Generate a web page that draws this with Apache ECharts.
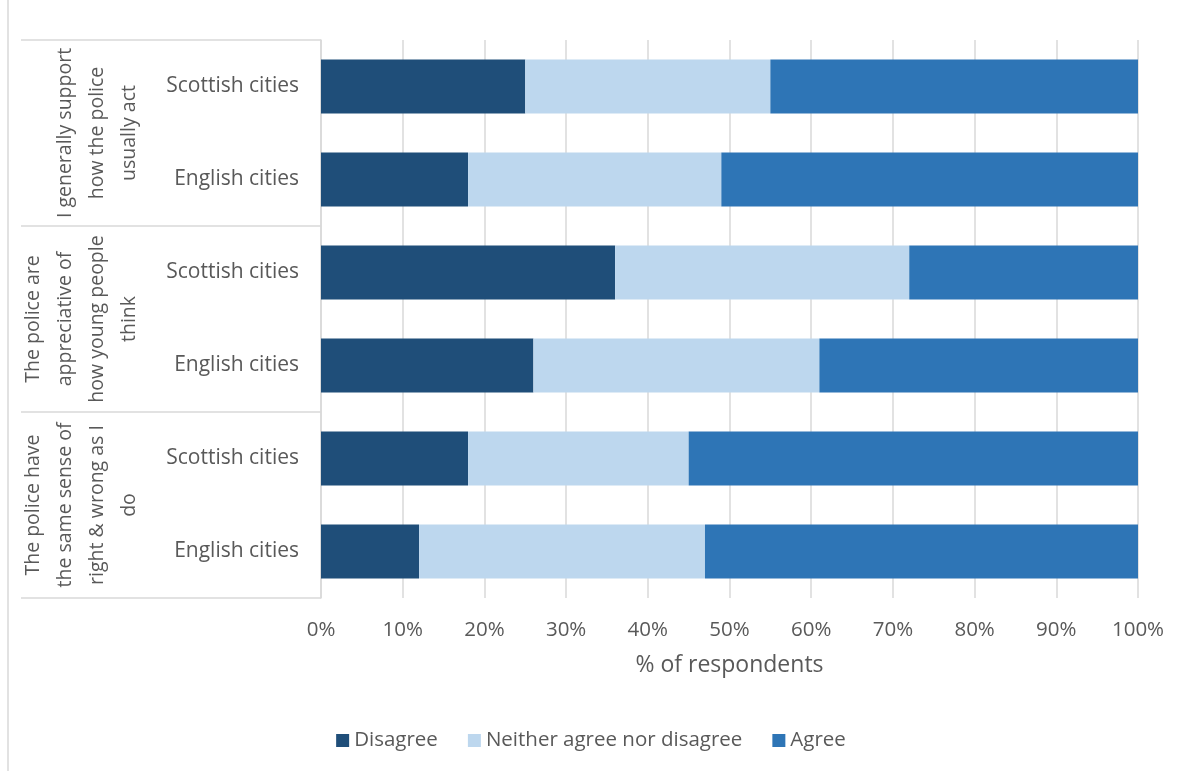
<!DOCTYPE html>
<html>
<head>
<meta charset="utf-8">
<script src="https://cdn.jsdelivr.net/npm/echarts@6/dist/echarts.min.js"></script>
<style>
  html, body { margin: 0; padding: 0; background: #fff; }
  #main { width: 1182px; height: 771px; }
</style>
</head>
<body>
<div id="main"></div>
<script>
  // statements (outer category level)
  var groups = [
    'I generally support\nhow the police\nusually act',
    'The police are\nappreciative of\nhow young people\nthink',
    'The police have\nthe same sense of\nright & wrong as I\ndo'
  ];
  // inner category level
  var cities = ['Scottish cities', 'English cities', 'Scottish cities', 'English cities', 'Scottish cities', 'English cities'];
  var seriesNames = ['Disagree', 'Neither agree nor disagree', 'Agree'];
  // % of respondents
  var disagree = [25, 18, 36, 26, 18, 12];
  var neither  = [30, 31, 36, 35, 27, 35];
  var agree    = [45, 51, 28, 39, 55, 53];
  var colors = ['#1f4e79', '#bdd7ee', '#2e75b6'];

  var font = '"Open Sans", sans-serif';
  var txt = '#595959';
  var line = '#d9d9d9';

  var chart = echarts.init(document.getElementById('main'));

  var values = [disagree, neither, agree];
  var series = seriesNames.map(function (name, i) {
    return {
      name: name,
      type: 'bar',
      stack: 'total',
      barCategoryGap: '42%',
      itemStyle: { color: colors[i] },
      data: values[i]
    };
  });

  chart.setOption({
    animation: false,
    color: colors,
    textStyle: { fontFamily: font },
    grid: { left: 321, right: 44, top: 40, bottom: 173 },
    legend: {
      bottom: 15,
      left: 'center',
      itemWidth: 13,
      itemHeight: 13,
      itemGap: 30,
      icon: 'rect',
      textStyle: { color: txt, fontSize: 20.5, fontFamily: font },
      data: seriesNames
    },
    xAxis: {
      type: 'value',
      min: 0,
      max: 100,
      interval: 10,
      axisLine: { show: false },
      axisTick: { show: false },
      axisLabel: { formatter: '{value}%', color: txt, fontSize: 20.5, margin: 22, fontFamily: font },
      splitLine: { lineStyle: { color: line, width: 1.5 } },
      name: '% of respondents',
      nameLocation: 'middle',
      nameGap: 56,
      nameTextStyle: { color: txt, fontSize: 23, fontFamily: font }
    },
    yAxis: [
      {
        type: 'category',
        position: 'left',
        inverse: true,
        data: cities,
        axisLine: { show: true, lineStyle: { color: line, width: 1.5 } },
        axisTick: { show: false },
        axisLabel: { color: txt, fontSize: 21, margin: 22, fontFamily: font }
      },
      {
        type: 'category',
        position: 'left',
        inverse: true,
        data: groups,
        axisLine: { show: false },
        axisTick: { show: true, length: 300, lineStyle: { color: line, width: 1.5 } },
        axisLabel: { color: txt, fontSize: 19.5, margin: 176, rotate: 90, lineHeight: 32, fontFamily: font, interval: 0 }
      }
    ],
    graphic: [
      {
        type: 'line',
        shape: { x1: 8, y1: 0, x2: 8, y2: 771 },
        style: { stroke: line, lineWidth: 1.5 }
      }
    ],
    series: series
  });
</script>
</body>
</html>
